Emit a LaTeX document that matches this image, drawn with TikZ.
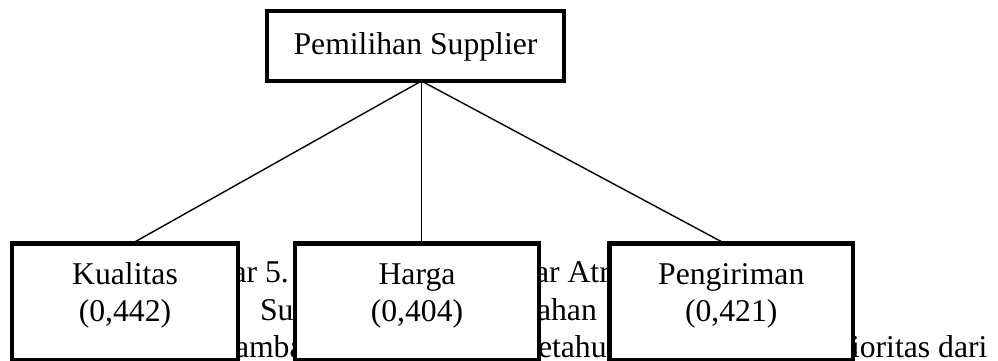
\documentclass[tikz,border=0pt]{standalone}
\usepackage{fontspec}
\setmainfont{Liberation Serif}
\usetikzlibrary{calc}

\tikzset{
  box/.style={draw=black, line width=4.5pt, fill=white, rectangle,
              inner sep=0pt, outer sep=0pt},
  txt/.style={inner sep=0pt, outer sep=0pt, anchor=base,
              font=\fontsize{31.7}{38}\selectfont},
  bodytxt/.style={txt, anchor=base west},
  link/.style={draw=black, line width=1.4pt}
}

\begin{document}
\begin{tikzpicture}[x=1pt, y=-1pt]
  \useasboundingbox (0,0) rectangle (998,360);
  \clip (0,0) rectangle (998,360);

  % running text of the page behind the figure
  \node[bodytxt] (p1a) at (232.5,282) {ar 5.};
  \node[bodytxt] (p1b) at (535,282) {ar Atr};
  \node[bodytxt] (p2a) at (260,320) {Su};
  \node[bodytxt] (p2b) at (537,320) {ahan};
  \node[bodytxt] (p3a) at (235,357) {amba};
  \node[bodytxt] (p3b) at (538,357) {etahu};
  \node[bodytxt] (p3c) at (851,357) {ioritas dari};

  % goal
  \node[box, minimum width=297pt, minimum height=70pt] (goal) at (415.5,46) {};
  \node[txt] (goalt) at (415.5,54) {Pemilihan Supplier};

  % criteria
  \node[box, minimum width=226pt, minimum height=117pt] (kual) at (125,302) {};
  \node[box, minimum width=244pt, minimum height=117pt] (harga) at (417,302) {};
  \node[box, minimum width=243.5pt, minimum height=117pt] (kirim) at (731.25,302) {};

  \node[txt] (kualt) at (125,284) {Kualitas};
  \node[txt] (kualv) at (125,321) {(0,442)};
  \node[txt] (hargat) at (417,284) {Harga};
  \node[txt] (hargav) at (417,321) {(0,404)};
  \node[txt] (kirimt) at (731.25,284) {Pengiriman};
  \node[txt] (kirimv) at (731.25,321) {(0,421)};

  % hierarchy links
  \coordinate (hub) at ($(goal.south west)!0.52!(goal.south east)$);
  \coordinate (kualin) at ($(kual.north west)!0.531!(kual.north east)$);
  \coordinate (kirimin) at ($(kirim.north west)!0.474!(kirim.north east)$);
  \draw[link] (hub) -- (kualin);
  \draw[link] (hub) -- (hub |- harga.north);
  \draw[link] (hub) -- (kirimin);
\end{tikzpicture}
\end{document}
